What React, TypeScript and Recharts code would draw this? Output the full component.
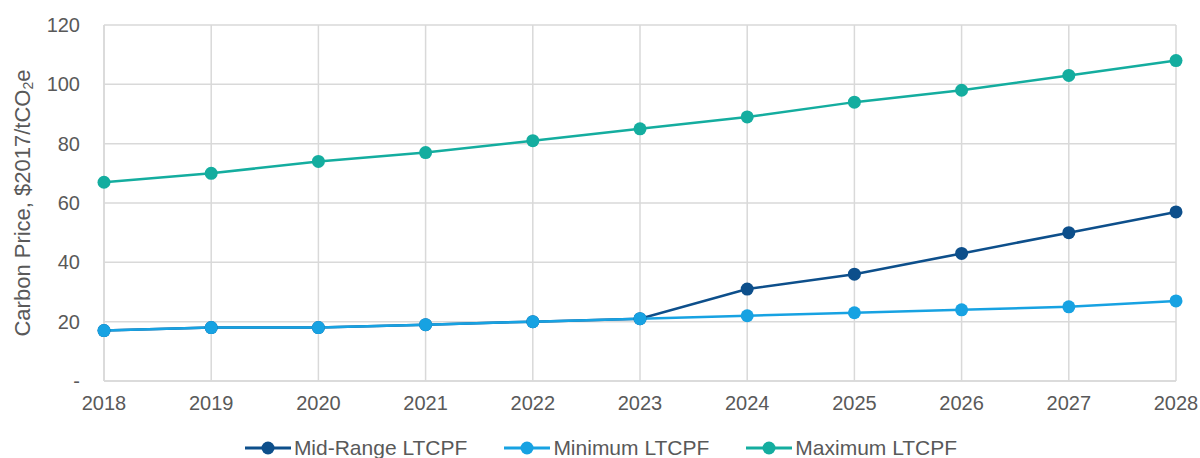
import React from "react";
import { CartesianGrid, Line, LineChart, XAxis, YAxis, Legend } from "recharts";

const years = [2018, 2019, 2020, 2021, 2022, 2023, 2024, 2025, 2026, 2027, 2028];
const midRange = [17, 18, 18, 19, 20, 21, 31, 36, 43, 50, 57];
const minimum = [17, 18, 18, 19, 20, 21, 22, 23, 24, 25, 27];
const maximum = [67, 70, 74, 77, 81, 85, 89, 94, 98, 103, 108];
const yTicks = [0, 20, 40, 60, 80, 100, 120];

const series = [
  { key: "mid", name: "Mid-Range LTCPF", color: "#0d4f8b" },
  { key: "min", name: "Minimum LTCPF", color: "#17a2e2" },
  { key: "max", name: "Maximum LTCPF", color: "#14ad9f" },
];

const data = years.map((year, i) => ({
  year,
  mid: midRange[i],
  min: minimum[i],
  max: maximum[i],
}));

const font = "'Liberation Sans', Arial, sans-serif";
const textColor = "#595959";
const gridColor = "#d9d9d9";

function YLabel({ viewBox }: { viewBox?: { x: number; y: number; width: number; height: number } }) {
  const cx = 22;
  const cy = viewBox ? viewBox.y + viewBox.height / 2 : 203;
  return (
    <text
      x={cx}
      y={cy}
      transform={`rotate(-90, ${cx}, ${cy})`}
      textAnchor="middle"
      dominantBaseline="central"
      fill={textColor}
      fontSize={22}
      fontFamily={font}
    >
      Carbon Price, $2017/tCO
      <tspan fontSize={14} dy={6}>2</tspan>
      <tspan dy={-6}>e</tspan>
    </text>
  );
}

function LegendContent() {
  return (
    <div
      style={{
        display: "flex",
        justifyContent: "center",
        alignItems: "center",
        gap: 37,
        fontFamily: font,
        fontSize: 21,
        color: textColor,
        paddingTop: 15,
        paddingLeft: 26,
      }}
    >
      {series.map((s) => (
        <div key={s.key} style={{ display: "flex", alignItems: "center" }}>
          <svg width={46} height={14} style={{ marginRight: 3 }}>
            <line x1={0} y1={7} x2={46} y2={7} stroke={s.color} strokeWidth={3} />
            <circle cx={23} cy={7} r={6.5} fill={s.color} />
          </svg>
          <span>{s.name}</span>
        </div>
      ))}
    </div>
  );
}

export default function App() {
  return (
    <div style={{ position: "absolute", left: 0, top: 0, width: 1200, height: 458, background: "#fff" }}>
      <LineChart width={1200} height={458} data={data} margin={{ top: 25, right: 24, left: 0, bottom: 0 }}>
        <CartesianGrid stroke={gridColor} strokeWidth={1.5} />
        <XAxis
          dataKey="year"
          type="number"
          domain={[2018, 2028]}
          ticks={years}
          interval={0}
          height={40}
          stroke={gridColor}
          strokeWidth={1.5}
          tickLine={false}
          tickSize={0}
          tickMargin={15}
          tick={{ fill: textColor, fontSize: 20, fontFamily: font }}
        />
        <YAxis
          domain={[0, 120]}
          ticks={yTicks}
          interval={0}
          width={104}
          stroke={gridColor}
          strokeWidth={1.5}
          tickLine={false}
          tickSize={0}
          tickMargin={24}
          tickFormatter={(v: number) => (v === 0 ? "-" : String(v))}
          tick={{ fill: textColor, fontSize: 20, fontFamily: font }}
          label={<YLabel />}
        />
        <Legend verticalAlign="bottom" height={37} content={<LegendContent />} />
        {series.map((s) => (
          <Line
            key={s.key}
            dataKey={s.key}
            name={s.name}
            stroke={s.color}
            strokeWidth={2.5}
            dot={{ r: 6.5, fill: s.color, stroke: s.color, strokeWidth: 0 }}
            activeDot={false}
            isAnimationActive={false}
          />
        ))}
      </LineChart>
    </div>
  );
}
